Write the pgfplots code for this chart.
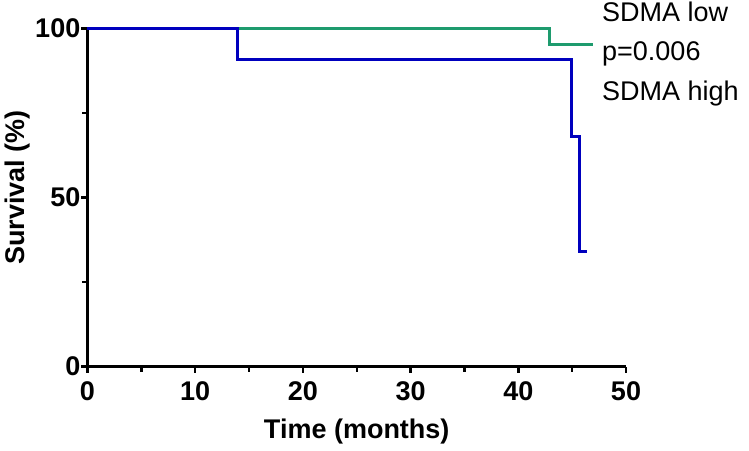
\documentclass[border=0pt]{standalone}
\usepackage{pgfplots}
\pgfplotsset{compat=1.18}
\usepackage{fontspec}
\setmainfont{Liberation Sans}
\definecolor{kmgreen}{RGB}{30,155,110}
\definecolor{kmblue}{RGB}{0,0,190}
\begin{document}
\fontsize{27}{32}\selectfont
\begin{tikzpicture}
\useasboundingbox (-87.5pt,-83.3pt) rectangle (661.5pt,366.7pt);
\begin{axis}[
    at={(0,0)}, anchor=south west,
    scale only axis,
    width=538.5pt, height=338pt,
    xmin=0, xmax=50, ymin=0, ymax=100,
    axis x line=bottom, axis y line=left,
    axis line style={-, line width=3pt, black},
    xtick={0,10,...,50}, ytick={0,50,100},
    minor x tick num=1, minor y tick num=1,
    tick align=outside,
    major tick length=6pt, minor tick length=5pt,
    every tick/.style={line width=2.5pt, black},
    /pgf/number format/assume math mode=true,
    ticklabel style={font=\bfseries, inner sep=1pt},
    xticklabel style={yshift=-8pt},
    xlabel={\bfseries Time (months)},
    ylabel={\bfseries Survival (\%)},
    xlabel style={yshift=-8pt},
    ylabel style={yshift=-5pt, xshift=10pt},
    clip=false,
]
\addplot[const plot, kmgreen, line width=3pt] coordinates {
    (0,100) (42.9,100) (42.9,95.2) (46.9,95.2)
};
\addplot[const plot, kmblue, line width=3pt] coordinates {
    (0,100) (13.9,100) (13.9,90.9) (44.9,90.9) (44.9,68.2) (45.7,68.2) (45.7,34.1) (46.4,34.1)
};
\node[anchor=base west, inner sep=0pt] at (axis cs:47.77,102.1) {SDMA low};
\node[anchor=base west, inner sep=0pt] at (axis cs:47.77,90.5) {p=0.006};
\node[anchor=base west, inner sep=0pt] at (axis cs:47.77,78.9) {SDMA high};
\end{axis}
\end{tikzpicture}
\end{document}
